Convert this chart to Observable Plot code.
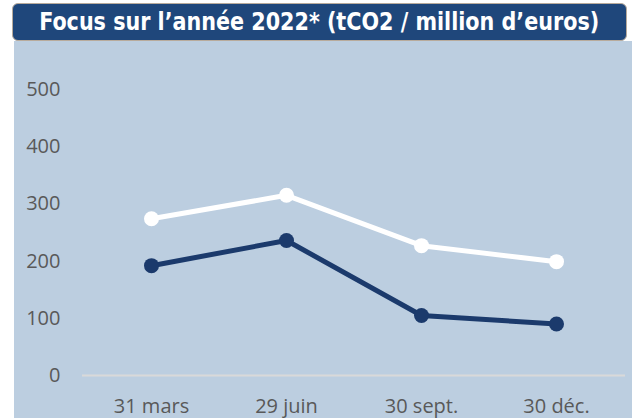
<!DOCTYPE html>
<html>
<head>
<meta charset="utf-8">
<script src="https://cdn.jsdelivr.net/npm/d3@7"></script>
<script src="https://cdn.jsdelivr.net/npm/@observablehq/plot@0.6"></script>
<style>
  html, body { margin: 0; padding: 0; background: #ffffff; width: 632px; height: 418px; overflow: hidden; }
  #panel { position: absolute; left: 14px; top: 41px; width: 618px; height: 377px; background: #bccee0; }
  #banner { position: absolute; left: 12px; top: 3px; width: 613px; height: 36px; background: #1f477b;
            border: 1px solid #b8ab9c; border-radius: 6px; box-sizing: content-box;
            display: flex; align-items: center; justify-content: center; overflow: hidden; }
  #title { display: inline-block; white-space: nowrap; color: #ffffff; font-family: "DejaVu Sans Condensed", "DejaVu Sans", sans-serif;
           font-weight: bold; font-size: 24.5px; line-height: 1; transform-origin: center center; }
  #chart { position: absolute; left: 0; top: 0; }
</style>
</head>
<body>
<div id="panel"></div>
<div id="banner"><span id="title">Focus sur l’année 2022* (tCO2 / million d’euros)</span></div>
<div id="chart"></div>
<script>
const categories = ["31 mars", "29 juin", "30 sept.", "30 déc."];
const seriesWhite = [274, 315, 227, 199];
const seriesNavy = [192, 236, 105, 90];
const yTicks = [0, 100, 200, 300, 400, 500];

const white = categories.map((c, i) => ({date: c, value: seriesWhite[i]}));
const navy = categories.map((c, i) => ({date: c, value: seriesNavy[i]}));

const plot = Plot.plot({
  width: 632,
  height: 418,
  marginLeft: 82,
  marginRight: 7,
  marginTop: 89,
  marginBottom: 43,
  style: {background: "transparent", fontFamily: "'Open Sans', sans-serif", fontSize: "20px", color: "#595959"},
  x: {type: "point", domain: categories, padding: 0.5, label: null},
  y: {domain: [0, 500], ticks: yTicks, label: null},
  marks: [
    Plot.ruleY([0], {stroke: "#d9d9d9", strokeWidth: 2}),
    Plot.axisY({ticks: yTicks, tickSize: 0, tickPadding: 22, label: null, fill: "#595959"}),
    Plot.axisX({tickSize: 0, tickPadding: 23, label: null, fill: "#595959"}),
    Plot.line(white, {x: "date", y: "value", stroke: "#ffffff", strokeWidth: 5}),
    Plot.dot(white, {x: "date", y: "value", r: 7.5, fill: "#ffffff", stroke: "none"}),
    Plot.line(navy, {x: "date", y: "value", stroke: "#1b3a6c", strokeWidth: 5}),
    Plot.dot(navy, {x: "date", y: "value", r: 7.5, fill: "#1b3a6c", stroke: "none"})
  ]
});
document.getElementById("chart").appendChild(plot);

const t = document.getElementById("title");
const w = t.getBoundingClientRect().width;
t.style.transform = `scaleX(${560 / w})`;
</script>
</body>
</html>
